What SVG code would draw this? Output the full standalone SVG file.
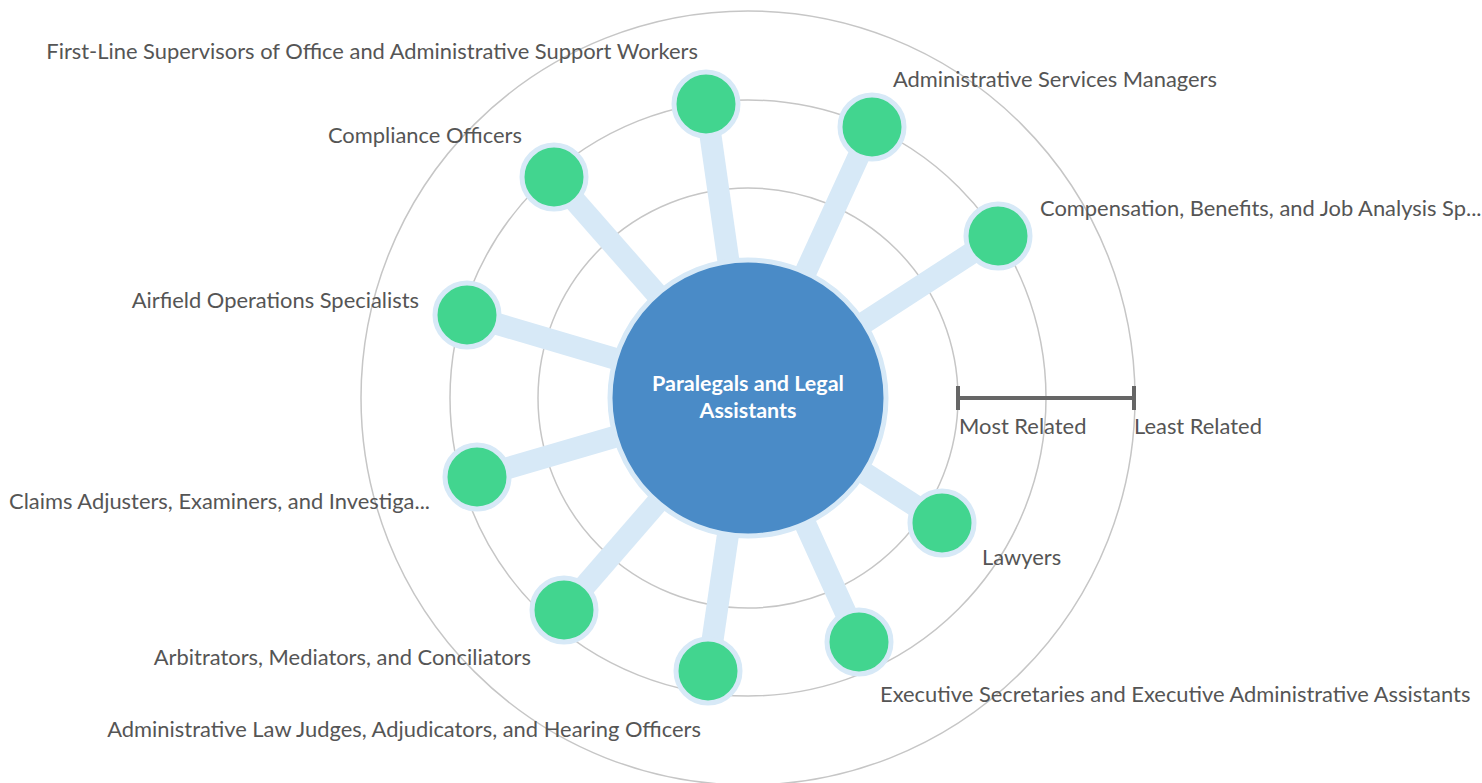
<svg xmlns="http://www.w3.org/2000/svg" width="1482" height="783" viewBox="0 0 1482 783">
<style>
.ring{fill:none;stroke:#c6c6c6;stroke-width:1.5}
.spoke{stroke:#d7e9f7;stroke-width:22;stroke-linecap:butt}
.node{fill:#42d58f;stroke:#d7e9f7;stroke-width:5}
.lbl{font-family:Lato,"Liberation Sans",sans-serif;font-size:21.9px;fill:#555}
.ctr{font-family:Lato,"Liberation Sans",sans-serif;font-size:21.5px;font-weight:bold;fill:#fff}
</style>
<rect width="1482" height="783" fill="#fff"/>
<g id="rings">
<circle class="ring" cx="748" cy="398" r="387"/>
<circle class="ring" cx="748" cy="398" r="298"/>
<circle class="ring" cx="748" cy="398" r="210"/>
</g>
<g id="connectors">
<line class="spoke" x1="748" y1="398" x2="706" y2="104"/>
<line class="spoke" x1="748" y1="398" x2="872" y2="127"/>
<line class="spoke" x1="748" y1="398" x2="998" y2="236"/>
<line class="spoke" x1="748" y1="398" x2="554" y2="177"/>
<line class="spoke" x1="748" y1="398" x2="467" y2="315"/>
<line class="spoke" x1="748" y1="398" x2="477" y2="477"/>
<line class="spoke" x1="748" y1="398" x2="564" y2="610"/>
<line class="spoke" x1="748" y1="398" x2="708" y2="671"/>
<line class="spoke" x1="748" y1="398" x2="859" y2="642"/>
<line class="spoke" x1="748" y1="398" x2="942" y2="523"/>
</g>
<g id="center">
<circle cx="748" cy="398" r="138" fill="#4a8bc7" stroke="#d7e9f7" stroke-width="5"/>
<text class="ctr" x="748" y="391" text-anchor="middle">Paralegals and Legal</text>
<text class="ctr" x="748" y="418" text-anchor="middle">Assistants</text>
</g>
<g id="n1"><circle class="node" cx="706" cy="104" r="32"/><text class="lbl" x="698" y="59" text-anchor="end">First-Line Supervisors of Office and Administrative Support Workers</text></g>
<g id="n2"><circle class="node" cx="872" cy="127" r="32"/><text class="lbl" x="893" y="87">Administrative Services Managers</text></g>
<g id="n3"><circle class="node" cx="998" cy="236" r="32"/><text class="lbl" x="1040" y="216">Compensation, Benefits, and Job Analysis Sp...</text></g>
<g id="n4"><circle class="node" cx="554" cy="177" r="32"/><text class="lbl" x="522" y="143" text-anchor="end">Compliance Officers</text></g>
<g id="n5"><circle class="node" cx="467" cy="315" r="32"/><text class="lbl" x="419" y="308" text-anchor="end">Airfield Operations Specialists</text></g>
<g id="n6"><circle class="node" cx="477" cy="477" r="32"/><text class="lbl" x="430" y="509" text-anchor="end">Claims Adjusters, Examiners, and Investiga...</text></g>
<g id="n7"><circle class="node" cx="564" cy="610" r="32"/><text class="lbl" x="531" y="665" text-anchor="end">Arbitrators, Mediators, and Conciliators</text></g>
<g id="n8"><circle class="node" cx="708" cy="671" r="32"/><text class="lbl" x="701" y="737" text-anchor="end">Administrative Law Judges, Adjudicators, and Hearing Officers</text></g>
<g id="n9"><circle class="node" cx="859" cy="642" r="32"/><text class="lbl" x="880" y="702">Executive Secretaries and Executive Administrative Assistants</text></g>
<g id="n10"><circle class="node" cx="942" cy="523" r="32"/><text class="lbl" x="982" y="565">Lawyers</text></g>
<g id="legend">
<line x1="958" y1="398" x2="1134" y2="398" stroke="#666" stroke-width="4"/>
<line x1="958" y1="386" x2="958" y2="410" stroke="#666" stroke-width="4"/>
<line x1="1134" y1="386" x2="1134" y2="410" stroke="#666" stroke-width="4"/>
<text class="lbl" x="959" y="434">Most Related</text>
<text class="lbl" x="1134" y="434">Least Related</text>
</g>
</svg>
